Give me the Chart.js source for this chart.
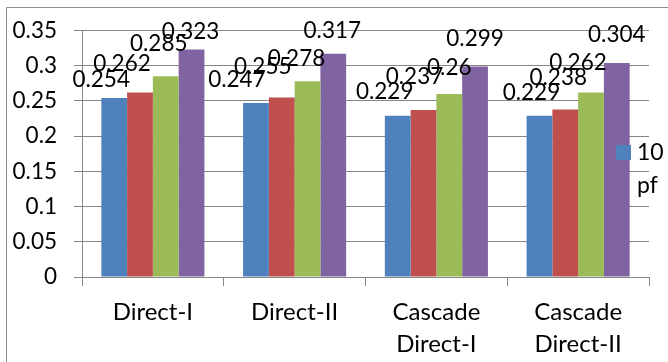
<!DOCTYPE html>
<html>
<head>
<meta charset="utf-8">
<script src="https://cdn.jsdelivr.net/npm/chart.js@4"></script>
<style>
  html, body { margin: 0; padding: 0; background: #ffffff; }
  #wrap { position: relative; width: 668px; height: 362px; }
</style>
</head>
<body>
<div id="wrap"><canvas id="chart" width="668" height="362"></canvas></div>
<script>
// Categories and series
const categories = ['Direct-I', 'Direct-II', ['Cascade', 'Direct-I'], ['Cascade', 'Direct-II']];
const seriesNames = ['10 pf', '20 pf', '30 pf', '40 pf'];
const series1 = [0.254, 0.247, 0.229, 0.229];
const series2 = [0.262, 0.255, 0.237, 0.238];
const series3 = [0.285, 0.278, 0.26, 0.262];
const series4 = [0.323, 0.317, 0.299, 0.304];
const yTicks = [0, 0.05, 0.1, 0.15, 0.2, 0.25, 0.3, 0.35];

const colors = ['#4F81BD', '#C0504D', '#9BBB59', '#8064A2'];
const gridColor = '#878787';
const FONT = 'Lato, "Open Sans", sans-serif';

// Small per-label nudges [dx, dy] so overlapping value labels stay staggered
const labelNudges = [
  [[-13, 0], [-18, -10], [-7, -14], [-1, 0]],
  [[-19, -5], [-19, -12], [-11, -4], [-1, -5]],
  [[-13, -6], [-9, -15], [0, -8], [0, -9]],
  [[-8, -5], [-7, -13], [-13, -11], [0, -10]]
];

const valueLabels = {
  id: 'valueLabels',
  afterDatasetsDraw(chart) {
    const ctx = chart.ctx;
    ctx.save();
    ctx.font = '22.5px ' + FONT;
    ctx.fillStyle = '#000000';
    ctx.textAlign = 'center';
    ctx.textBaseline = 'alphabetic';
    chart.data.datasets.forEach((ds, di) => {
      const meta = chart.getDatasetMeta(di);
      meta.data.forEach((bar, i) => {
        const n = labelNudges[i][di];
        ctx.fillText(String(ds.data[i]), bar.x + n[0], bar.y - 11 + n[1]);
      });
    });
    ctx.restore();
  }
};

// Frame lines and the single visible legend entry
const frameAndLegend = {
  id: 'frameAndLegend',
  beforeDraw(chart) {
    const ctx = chart.ctx;
    ctx.save();
    ctx.strokeStyle = '#8c8c8c';
    ctx.lineWidth = 1;
    ctx.beginPath();
    ctx.moveTo(6.5, chart.height);
    ctx.lineTo(6.5, 7.5);
    ctx.lineTo(chart.width, 7.5);
    ctx.stroke();
    ctx.restore();
  },
  afterDraw(chart) {
    const ctx = chart.ctx;
    const ds = chart.data.datasets[0];
    const x = chart.chartArea.right - 33;
    const y = 145;
    ctx.save();
    ctx.fillStyle = ds.backgroundColor;
    ctx.fillRect(x, y, 15, 15);
    ctx.fillStyle = '#000000';
    ctx.font = '23px ' + FONT;
    ctx.textAlign = 'left';
    ctx.textBaseline = 'alphabetic';
    ds.label.split(' ').forEach((word, k) => {
      ctx.fillText(word, x + 21, y + 15 + k * 33);
    });
    ctx.restore();
  }
};

const seriesValues = [series1, series2, series3, series4];

new Chart(document.getElementById('chart'), {
  type: 'bar',
  data: {
    labels: categories,
    datasets: seriesValues.map((vals, i) => ({
      label: seriesNames[i],
      data: vals,
      backgroundColor: colors[i],
      borderWidth: 0,
      categoryPercentage: 4 / 5.5,
      barPercentage: 1
    }))
  },
  options: {
    responsive: false,
    animation: false,
    layout: { padding: { left: 0, top: 29, right: 19, bottom: 0 } },
    plugins: {
      legend: { display: false },
      tooltip: { enabled: false }
    },
    scales: {
      x: {
        afterFit(s) { s.height = 85; },
        grid: {
          offset: true,
          drawOnChartArea: false,
          drawTicks: true,
          tickLength: 9,
          color: gridColor
        },
        border: { display: true, color: gridColor },
        ticks: {
          color: '#000000',
          font: { family: FONT, size: 24, lineHeight: 1.3 },
          padding: 11,
          maxRotation: 0,
          autoSkip: false
        }
      },
      y: {
        min: yTicks[0],
        max: yTicks[yTicks.length - 1],
        afterFit(s) { s.width = 82; },
        afterBuildTicks(s) { s.ticks = yTicks.map(v => ({ value: v })); },
        grid: {
          color: gridColor,
          drawTicks: true,
          tickLength: 8
        },
        border: { display: true, color: gridColor },
        ticks: {
          color: '#000000',
          font: { family: FONT, size: 22.5 },
          padding: 17,
          callback: v => String(Math.round(v * 100) / 100)
        }
      }
    }
  },
  plugins: [valueLabels, frameAndLegend]
});
</script>
</body>
</html>
